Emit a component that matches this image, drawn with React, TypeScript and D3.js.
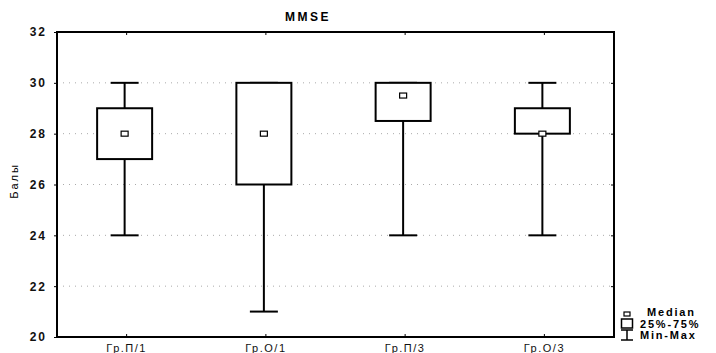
import { useEffect, useRef } from "react";
import * as d3 from "d3";

// Значения
const groups = ["Гр.П/1", "Гр.О/1", "Гр.П/3", "Гр.О/3"];
const mins = [24, 21, 24, 24];
const q1s = [27, 26, 28.5, 28];
const medians = [28, 28, 29.5, 28];
const q3s = [29, 30, 30, 29];
const maxs = [30, 30, 30, 30];
const yTicks = [20, 22, 24, 26, 28, 30, 32];
const legendItems = ["Median", "25%-75%", "Min-Max"];

export default function App() {
  const svgRef = useRef<SVGSVGElement>(null);

  useEffect(() => {
    const W = 716, H = 353;
    const margin = { top: 32, right: 102, bottom: 16, left: 57 };
    const width = W - margin.left - margin.right;
    const height = H - margin.top - margin.bottom;
    const font = "Liberation Sans, Arial, sans-serif";

    const root = d3.select(svgRef.current);
    root.selectAll("*").remove();
    root.attr("width", W).attr("height", H);

    root.append("rect").attr("width", W).attr("height", H).attr("fill", "white");

    const svg = root.append("g").attr("transform", `translate(${margin.left},${margin.top})`);

    const x = d3.scaleBand().domain(groups).range([0, width]);
    const y = d3.scaleLinear().domain([20, 32]).range([height, 0]);

    const data = groups.map((g, i) => ({
      g, min: mins[i], q1: q1s[i], med: medians[i], q3: q3s[i], max: maxs[i],
    }));

    // сетка
    svg.append("g")
      .selectAll("line")
      .data(yTicks.filter(t => t > 20 && t < 32))
      .join("line")
      .attr("x1", 0).attr("x2", width)
      .attr("y1", d => y(d)).attr("y2", d => y(d))
      .attr("stroke", "#aaa")
      .attr("stroke-width", 1)
      .attr("stroke-dasharray", "1,5");

    // оси
    const left = svg.append("g").call(d3.axisLeft(y).tickValues(yTicks).tickSize(3).tickFormat(d3.format("d")));
    left.select(".domain").remove();
    left.selectAll("line").attr("stroke", "#000");
    left.selectAll("text")
      .attr("font-family", font).attr("font-size", 12).attr("font-weight", "bold")
      .attr("letter-spacing", 2)
      .attr("x", -10).attr("fill", "#111");

    const right = svg.append("g").attr("transform", `translate(${width},0)`)
      .call(d3.axisLeft(y).tickValues(yTicks).tickSize(3).tickFormat(() => ""));
    right.select(".domain").remove();
    right.selectAll("line").attr("stroke", "#000");

    const bottom = svg.append("g").attr("transform", `translate(0,${height})`)
      .call(d3.axisBottom(x).tickSize(-3));
    bottom.select(".domain").remove();
    bottom.selectAll("line").attr("stroke", "#000");
    bottom.selectAll("text")
      .attr("font-family", font).attr("font-size", 11).attr("fill", "#111")
      .attr("letter-spacing", 1.5)
      .attr("y", 7);

    const top = svg.append("g").call(d3.axisTop(x).tickSize(-3).tickFormat(() => ""));
    top.select(".domain").remove();
    top.selectAll("line").attr("stroke", "#000");

    svg.append("rect")
      .attr("width", width).attr("height", height)
      .attr("fill", "none").attr("stroke", "#000").attr("stroke-width", 2);

    // боксы
    const boxW = 55, capW = 28;
    const gBox = svg.append("g")
      .selectAll("g")
      .data(data)
      .join("g")
      .attr("transform", d => `translate(${x(d.g)! + x.bandwidth() / 2 - 2},0)`);

    gBox.append("line")
      .attr("y1", d => y(d.min)).attr("y2", d => y(d.max))
      .attr("stroke", "#000").attr("stroke-width", 2);
    gBox.append("line")
      .attr("x1", -capW / 2).attr("x2", capW / 2)
      .attr("y1", d => y(d.min)).attr("y2", d => y(d.min))
      .attr("stroke", "#000").attr("stroke-width", 2);
    gBox.append("line")
      .attr("x1", -capW / 2).attr("x2", capW / 2)
      .attr("y1", d => y(d.max)).attr("y2", d => y(d.max))
      .attr("stroke", "#000").attr("stroke-width", 2);
    gBox.append("rect")
      .attr("x", -boxW / 2).attr("width", boxW)
      .attr("y", d => y(d.q3)).attr("height", d => y(d.q1) - y(d.q3))
      .attr("fill", "white").attr("stroke", "#000").attr("stroke-width", 2);
    gBox.append("rect")
      .attr("x", -3.5).attr("width", 7)
      .attr("y", d => y(d.med) - 2.5).attr("height", 5)
      .attr("fill", "white").attr("stroke", "#000").attr("stroke-width", 1.2);

    // заголовок и подпись оси
    root.append("text")
      .attr("x", 308).attr("y", 21)
      .attr("text-anchor", "middle")
      .attr("font-family", font).attr("font-size", 12).attr("font-weight", "bold")
      .attr("letter-spacing", 2.5)
      .text("MMSE");

    root.append("text")
      .attr("transform", "translate(18,181) rotate(-90)")
      .attr("text-anchor", "middle")
      .attr("font-family", font).attr("font-size", 11)
      .attr("letter-spacing", 2)
      .text("Балы");

    // легенда
    const lg = root.append("g").attr("transform", "translate(620,306)");
    lg.append("rect").attr("x", 4).attr("y", 6).attr("width", 6).attr("height", 4)
      .attr("fill", "white").attr("stroke", "#000").attr("stroke-width", 1.2);
    lg.append("rect").attr("x", 1.5).attr("y", 13).attr("width", 11).attr("height", 9)
      .attr("fill", "white").attr("stroke", "#000").attr("stroke-width", 1.5);
    lg.append("line").attr("x1", 7).attr("x2", 7).attr("y1", 24).attr("y2", 34)
      .attr("stroke", "#000").attr("stroke-width", 1.5);
    lg.append("line").attr("x1", 1).attr("x2", 13).attr("y1", 24).attr("y2", 24)
      .attr("stroke", "#000").attr("stroke-width", 1.5);
    lg.append("line").attr("x1", 1).attr("x2", 13).attr("y1", 34).attr("y2", 34)
      .attr("stroke", "#000").attr("stroke-width", 1.5);
    lg.selectAll("text.l")
      .data(legendItems)
      .join("text")
      .attr("class", "l")
      .attr("x", (_, i) => (i === 0 ? 27 : 20)).attr("y", (_, i) => 10 + i * 11.7)
      .attr("font-family", font).attr("font-size", 11).attr("font-weight", "bold")
      .attr("letter-spacing", 1.8)
      .text(d => d);
  }, []);

  return <svg ref={svgRef} style={{ position: "absolute", left: 0, top: 0 }}></svg>;
}
